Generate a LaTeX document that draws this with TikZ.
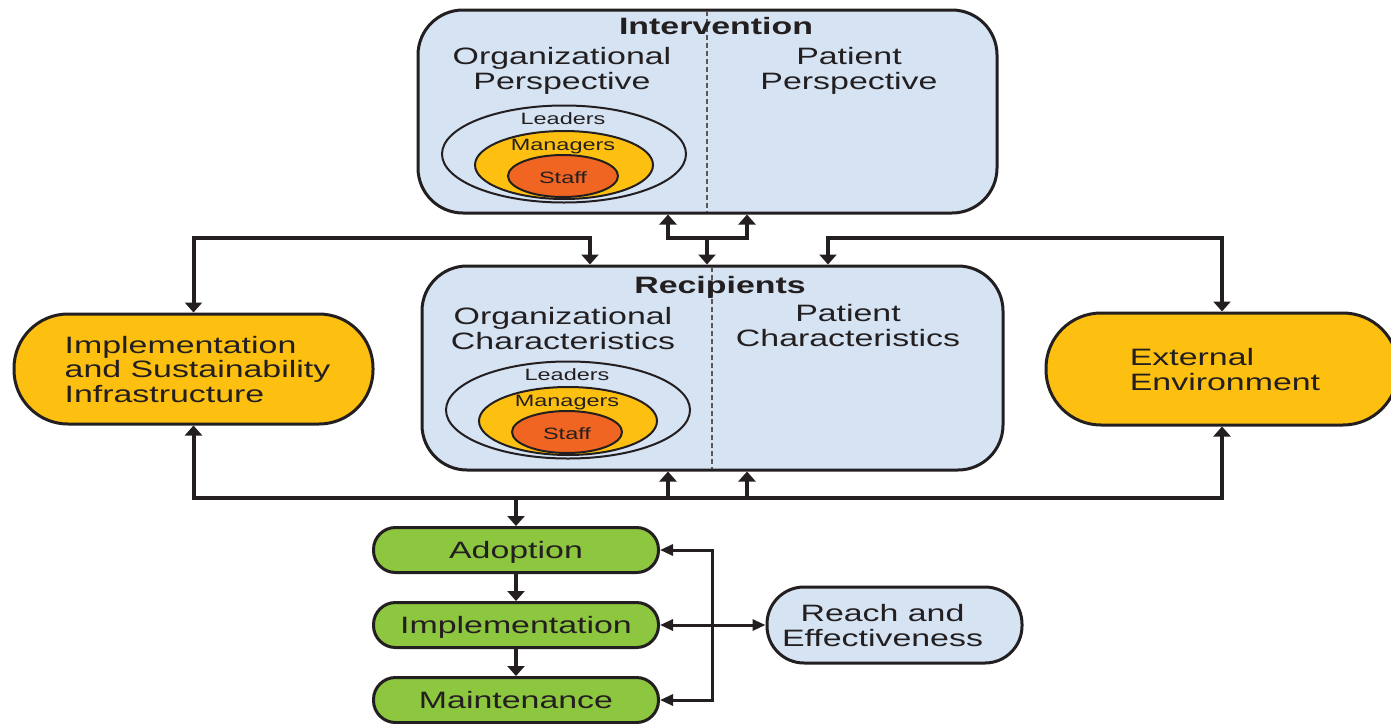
\documentclass[tikz,border=0pt]{standalone}
\usepackage{fontspec}
\usepackage{graphicx}
\setmainfont{Liberation Sans}
\usetikzlibrary{shapes.geometric,arrows.meta}

\definecolor{boxblue}{RGB}{213,227,243}
\definecolor{gold}{RGB}{253,192,16}
\definecolor{staffor}{RGB}{241,101,34}
\definecolor{leaf}{RGB}{141,198,63}
\definecolor{ink}{RGB}{35,31,32}

% the source picture is stretched sideways, so the text is too
\newcommand{\xs}{1.43}
\newcommand{\wtext}[2][c]{\raisebox{-4pt}[\height][\depth]{\scalebox{\xs}[1]{\begin{tabular}{@{}#1@{}}#2\end{tabular}}}}
\newcommand{\bigfont}{\fontsize{23.7}{24.4}\selectfont}
\newcommand{\smallfont}{\fontsize{16.4}{17}\selectfont}

\tikzset{
  panel/.style={draw=ink, line width=3pt, fill=boxblue, rounded corners=45pt, inner sep=0pt},
  pill/.style={draw=ink, line width=3pt, rounded corners=#1, inner sep=0pt, text=ink, font=\bigfont},
  ring/.style={ellipse, draw=ink, line width=2pt, inner sep=0pt},
  txt/.style={text=ink, font=\bigfont, inner sep=0pt},
  smalltxt/.style={text=ink, font=\smallfont, inner sep=0pt},
  divider/.style={draw=ink!75, line width=1.5pt, dash pattern=on 5pt off 3pt},
  arr/.style={draw=ink, line width=4pt, -{Triangle[width=17pt,length=10pt]}},
  arrs/.style={draw=ink, line width=4pt, {Triangle[width=17pt,length=10pt]}-{Triangle[width=17pt,length=10pt]}},
  brack/.style={draw=ink, line width=3pt, {Triangle[width=11pt,length=13pt]}-{Triangle[width=11pt,length=13pt]}},
}

\begin{document}
\begin{tikzpicture}[x=1pt,y=-1pt]
\useasboundingbox (0,0) rectangle (1391,723);

% intervention
\node[panel, minimum width=579pt, minimum height=203pt] (intv) at (707.5,111.5) {};
\draw[divider] (707,11) -- (707,212);
\node[txt, font=\bigfont\bfseries] (intvT) at (716,26) {\wtext{Intervention}};
\node[txt] (orgP) at (562,68) {\wtext{Organizational\\Perspective}};
\node[txt] (patP) at (849,68) {\wtext{Patient\\Perspective}};

% recipients
\node[panel, minimum width=581pt, minimum height=204pt] (recip) at (712.5,368) {};
\draw[divider] (712,267) -- (712,469);
\node[txt, font=\bigfont\bfseries] (recT) at (720,285) {\wtext{Recipients}};
\node[txt] (orgC) at (563,328) {\wtext{Organizational\\Characteristics}};
\node[txt] (patC) at (848,325) {\wtext{Patient\\Characteristics}};

% leaders / managers / staff
\foreach \cx/\cy/\n in {564/154/i, 568/410/r} {
  \node[ring, fill=boxblue, minimum width=244pt, minimum height=97pt] (lead\n) at (\cx,\cy) {};
  \node[ring, fill=gold, minimum width=178pt, minimum height=68pt] (mgr\n) at (\cx,\cy+11) {};
  \node[ring, smalltxt, fill=staffor, minimum width=110pt, minimum height=42pt] (staff\n) at (\cx-1,\cy+22) {\wtext{Staff}};
  \node[smalltxt] (leadT\n) at (\cx-1,\cy-37) {\wtext{Leaders}};
  \node[smalltxt] (mgrT\n) at (\cx-1,\cy-11) {\wtext{Managers}};
}

% side boxes
\node[pill=54pt, fill=gold, minimum width=359pt, minimum height=110pt] (infra) at (193.5,369)
  {\hspace{8pt}\wtext[l]{Implementation\\and Sustainability\\Infrastructure}};
\node[pill=55pt, fill=gold, minimum width=352pt, minimum height=112pt] (env) at (1222,369)
  {\hspace{6pt}\wtext[l]{External\\Environment}};

% outcomes
\node[pill=22pt, fill=leaf, minimum width=285pt, minimum height=45pt] (adopt) at (516,550) {\wtext{Adoption}};
\node[pill=22pt, fill=leaf, minimum width=285pt, minimum height=45pt] (implm) at (516,625) {\wtext{Implementation}};
\node[pill=22pt, fill=leaf, minimum width=285pt, minimum height=45pt] (maint) at (516,700) {\wtext{Maintenance}};
\node[pill=37pt, fill=boxblue, minimum width=255pt, minimum height=76pt] (reach) at (894.5,625)
  {\wtext{Reach and\\Effectiveness}\hspace{24pt}\null};

% helper lines
\coordinate (ya) at (0,238);
\coordinate (yb) at (0,498);
\coordinate (xa) at (590,0);
\coordinate (xb) at (828,0);
\coordinate (xc) at (668,0);
\coordinate (xd) at (747,0);
\coordinate (xm) at (707,0);
\coordinate (xr) at (712,0);

% top connectors
\draw[arrs] (infra.north) |- (ya -| xa) -- (recip.north -| xa);
\draw[arrs] (env.north) |- (ya -| xb) -- (recip.north -| xb);
\draw[arrs] (intv.south -| xc) |- (ya -| xd) -- (intv.south -| xd);
\draw[arr] (ya -| xm) -- (recip.north -| xm);

% bottom connectors
\draw[arrs] (infra.south) |- (env.south |- yb) -- (env.south);
\draw[arr] (yb -| xc) -- (recip.south -| xc);
\draw[arr] (yb -| xd) -- (recip.south -| xd);
\draw[arr] (yb -| adopt.north) -- (adopt.north);

% outcome chain
\draw[arr] (adopt.south) -- (implm.north);
\draw[arr] (implm.south) -- (maint.north);
\draw[brack] (adopt.east) -| (xr |- maint.east) -- (maint.east);
\draw[brack] (implm.east) -- (reach.west);
\end{tikzpicture}
\end{document}
